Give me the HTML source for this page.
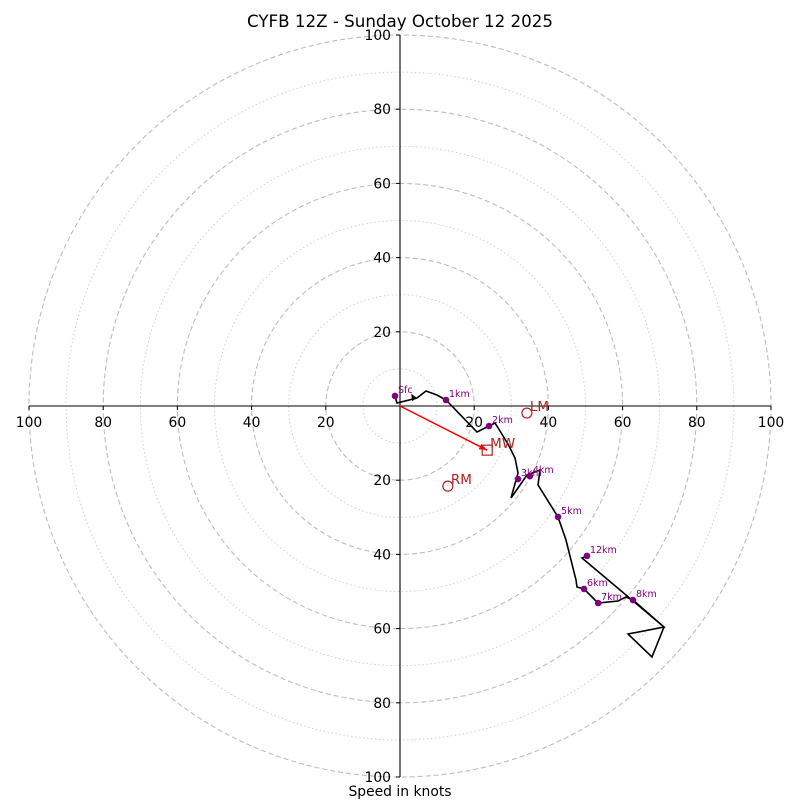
<!DOCTYPE html>
<html><head><meta charset="utf-8">
<style>
html,body{margin:0;padding:0;background:#fff;}
svg{display:block;font-family:"DejaVu Sans","Liberation Sans",sans-serif;}
</style></head>
<body>
<svg id="chart" width="800" height="800" viewBox="0 0 800 800">
<text x="400" y="27" text-anchor="middle" font-size="16.7">CYFB 12Z - Sunday October 12 2025</text>
<text x="400" y="796" text-anchor="middle" font-size="13.9">Speed in knots</text>
<g id="rings"></g><g id="axes"></g><g id="plot"></g>
</svg>
<script>
// data (knots)
const ringValues = [10,20,30,40,50,60,70,80,90,100];
const tickLabels = [20,40,60,80,100];
const hodoU = [-1.35,-0.81,4.58,7.01,9.97,12.40,20.75,23.99,25.61,29.11,31.00,31.81,29.92,34.23,37.74,37.20,42.59,44.74,47.44,47.71,49.60,53.37,58.76,60.92,62.80,71.16,61.46,67.92,71.16,49.06,50.40];
const hodoV = [2.70,0.81,2.16,4.04,2.96,1.62,-7.01,-5.39,-4.58,-10.24,-14.02,-18.06,-24.80,-18.60,-17.25,-21.29,-29.92,-36.12,-46.90,-48.79,-49.33,-53.10,-52.56,-51.48,-52.29,-59.57,-61.46,-67.65,-59.57,-40.97,-40.43];
const heightLabels = ["Sfc","1km","2km","3km","4km","5km","6km","7km","8km","12km"];
const heightU = [-1.35,12.4,24.0,31.8,35.0,42.6,49.6,53.4,62.8,50.4];
const heightV = [2.70,1.62,-5.4,-19.7,-18.9,-29.9,-49.3,-53.1,-52.3,-40.4];
const motionLabels = ["LM","MW","RM"];
const motionU = [34.2,23.5,12.9];
const motionV = [-1.9,-11.9,-21.6];

const NS="http://www.w3.org/2000/svg";
const cx=400, cy=406, k=3.71;
const X=u=>cx+u*k, Y=v=>cy-v*k;
function mk(tag,attrs,parent){const e=document.createElementNS(NS,tag);for(const a in attrs)e.setAttribute(a,attrs[a]);parent.appendChild(e);return e;}
const rings=document.getElementById('rings'),axes=document.getElementById('axes'),plot=document.getElementById('plot');

ringValues.forEach(r=>{
  const c=mk('circle',{cx:cx,cy:cy,r:r*k,fill:'none',stroke:r%20===0?'#bdbdbd':'#d0d0d0','stroke-width':r%20===0?1.1:1,'stroke-dasharray':r%20===0?'5,3':'1.5,2.5'},rings);
  
  
});
let l=mk('line',{x1:X(-100),y1:cy,x2:X(100),y2:cy,stroke:'#000','stroke-width':1.1},axes);


l=mk('line',{x1:cx,y1:Y(100),x2:cx,y2:Y(-100),stroke:'#000','stroke-width':1.1},axes);


tickLabels.forEach(t=>{
  [-1,1].forEach(s=>{
    mk('line',{x1:X(s*t),y1:cy,x2:X(s*t),y2:cy+4,stroke:'#000'},axes);
    const tx=mk('text',{x:X(s*t),y:cy+21,'text-anchor':'middle','font-size':13.9},axes);
    tx.textContent=t;
    
    
    mk('line',{x1:cx-4,y1:Y(s*t),x2:cx,y2:Y(s*t),stroke:'#000'},axes);
    const ty=mk('text',{x:cx-9,y:Y(s*t)+5,'text-anchor':'end','font-size':13.9},axes);
    ty.textContent=t;
    
    
  });
});
// mean wind arrow
const ar=mk('line',{x1:X(0),y1:Y(0),x2:X(motionU[1]),y2:Y(motionV[1]),stroke:'#ff0000','stroke-width':1.5},plot);


(function(){const x2=X(motionU[1]),y2=Y(motionV[1]);const a=Math.atan2(y2-Y(0),x2-X(0));
const p=[[x2,y2],[x2-8*Math.cos(a)+3*Math.sin(a),y2-8*Math.sin(a)-3*Math.cos(a)],[x2-8*Math.cos(a)-3*Math.sin(a),y2-8*Math.sin(a)+3*Math.cos(a)]];
mk('polygon',{points:p.map(q=>q.join(',')).join(' '),fill:'#ff0000'},plot);})();
// hodograph line
const pl=mk('polyline',{points:hodoU.map((u,i)=>X(u)+','+Y(hodoV[i])).join(' '),fill:'none',stroke:'#000','stroke-width':1.6,'stroke-linejoin':'miter'},plot);


// small arrow near start
mk('polygon',{points:`${X(4.6)},${Y(2.16)} ${X(3.0)},${Y(3.3)} ${X(3.3)},${Y(1.3)}`,fill:'#000'},plot);
// height markers
heightLabels.forEach((h,i)=>{
  const d=mk('circle',{cx:X(heightU[i]),cy:Y(heightV[i]),r:3.3,fill:'#800080'},plot);
  
  
  const t=mk('text',{x:X(heightU[i])+3,y:Y(heightV[i])-3,'font-size':9.5,fill:'#800080'},plot);
  t.textContent=h;
  
  
});
// storm motion markers
motionLabels.forEach((m,i)=>{
  const x=X(motionU[i]),y=Y(motionV[i]);
  let s;
  if(m==='MW') s=mk('rect',{x:x-5,y:y-5,width:10,height:10,fill:'none',stroke:'#b22222','stroke-width':1.2},plot);
  else s=mk('circle',{cx:x,cy:y,r:5,fill:'none',stroke:'#b22222','stroke-width':1.2},plot);
  
  
  const t=mk('text',{x:x+3,y:y-2,'font-size':13.5,fill:'#b22222'},plot);
  t.textContent=m;
  
  
});
</script>
</body></html>
